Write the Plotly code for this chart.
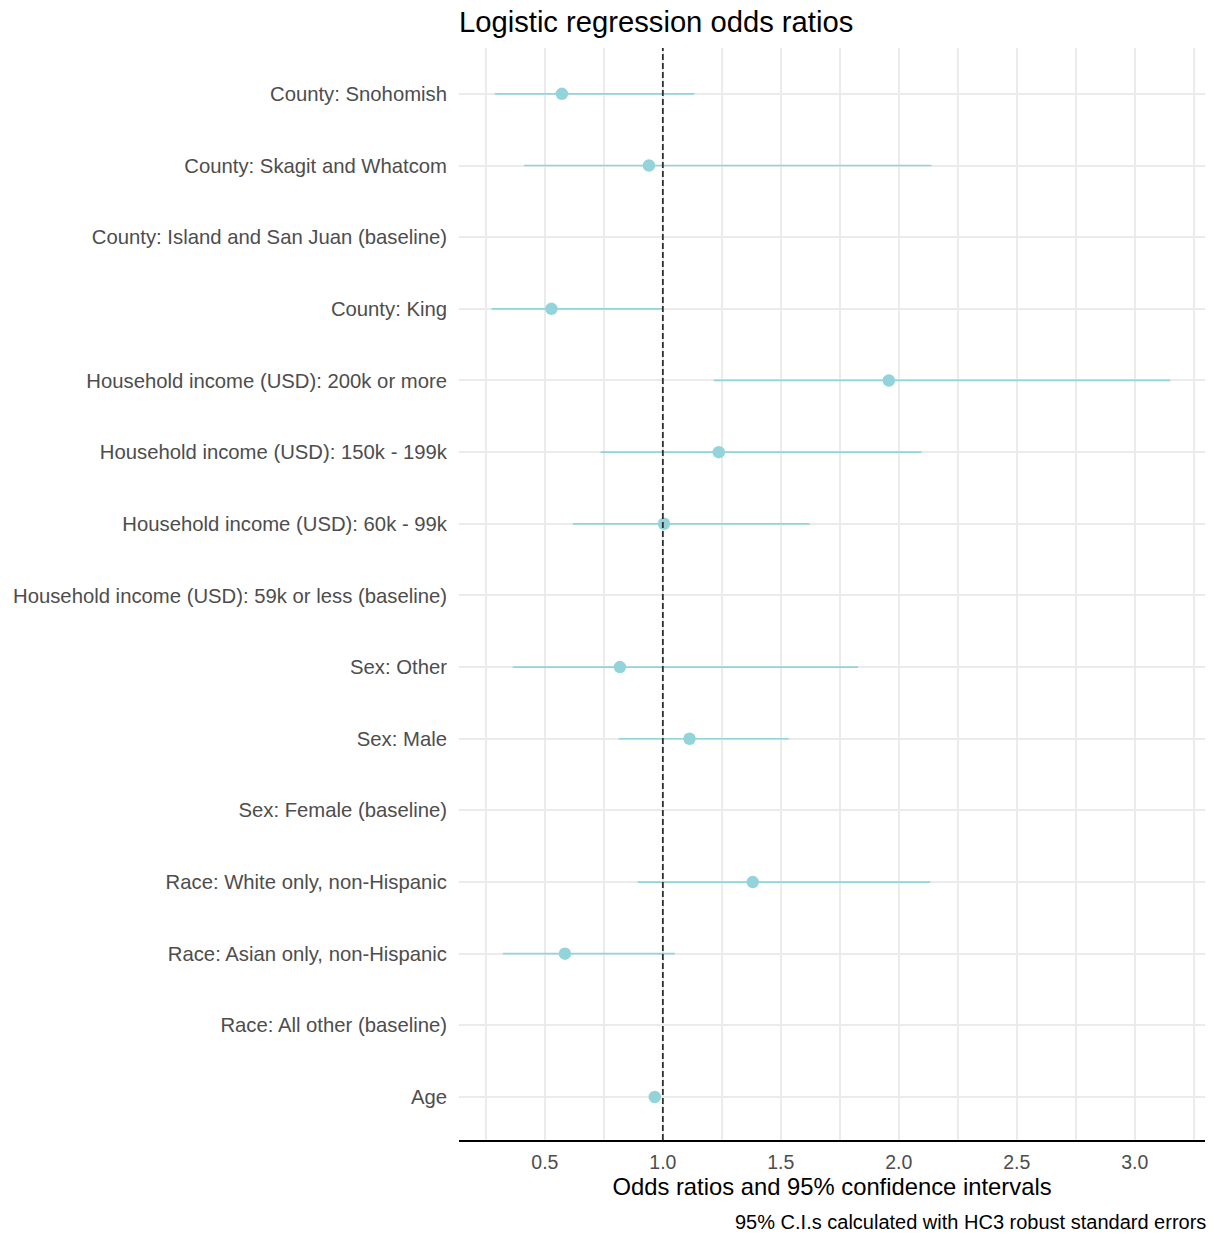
import plotly.graph_objects as go

# Model terms, listed top to bottom as they appear on the y axis
terms = [
    "County: Snohomish",
    "County: Skagit and Whatcom",
    "County: Island and San Juan (baseline)",
    "County: King",
    "Household income (USD): 200k or more",
    "Household income (USD): 150k - 199k",
    "Household income (USD): 60k - 99k",
    "Household income (USD): 59k or less (baseline)",
    "Sex: Other",
    "Sex: Male",
    "Sex: Female (baseline)",
    "Race: White only, non-Hispanic",
    "Race: Asian only, non-Hispanic",
    "Race: All other (baseline)",
    "Age",
]

# Odds ratios with 95% CI bounds (baseline levels have no estimate)
odds_ratio = [0.572, 0.941, None, 0.528, 1.958, 1.237, 1.005, None,
              0.818, 1.113, None, 1.381, 0.585, None, 0.966]
ci_low = [0.288, 0.411, None, 0.274, 1.216, 0.736, 0.619, None,
          0.364, 0.812, None, 0.894, 0.322, None, 0.958]
ci_high = [1.134, 2.139, None, 0.997, 3.151, 2.096, 1.622, None,
           1.828, 1.534, None, 2.133, 1.051, None, 0.975]

x_ticks = [0.5, 1.0, 1.5, 2.0, 2.5, 3.0]
x_tick_text = ["0.5", "1.0", "1.5", "2.0", "2.5", "3.0"]

point_color = "#93D4DB"
font_family = "Liberation Sans, Arial, sans-serif"

err_plus = [None if (h is None or p is None) else h - p for h, p in zip(ci_high, odds_ratio)]
err_minus = [None if (l is None or p is None) else p - l for l, p in zip(ci_low, odds_ratio)]

fig = go.Figure()
fig.add_trace(go.Scatter(
    x=odds_ratio,
    y=terms,
    mode="markers",
    marker=dict(size=12.5, color=point_color, line=dict(width=0)),
    error_x=dict(
        type="data",
        symmetric=False,
        array=err_plus,
        arrayminus=err_minus,
        color=point_color,
        thickness=1.7,
        width=0,
    ),
    showlegend=False,
    cliponaxis=False,
))

# Reference line at an odds ratio of 1
fig.add_shape(
    type="line", xref="x", yref="paper",
    x0=1.0, x1=1.0, y0=0, y1=1,
    line=dict(color="#2F2F2F", width=1.8, dash="6px,3px"),
    layer="above",
)

n = len(terms)
fig.update_layout(
    width=1214,
    height=1236,
    margin=dict(l=459, r=9, t=48, b=96),
    paper_bgcolor="white",
    plot_bgcolor="white",
    font=dict(family=font_family, color="#4D4D4D"),
    title=dict(
        text="Logistic regression odds ratios",
        x=459 / 1214, xanchor="left", xref="container",
        y=1 - 22 / 1236, yanchor="middle", yref="container",
        font=dict(size=29.2, color="black", family=font_family),
    ),
    xaxis=dict(
        range=[0.136, 3.298],
        tickvals=x_ticks,
        ticktext=x_tick_text,
        tickfont=dict(size=19.5, color="#4D4D4D"),
        ticks="",
        ticklabelstandoff=4,
        showgrid=True,
        gridcolor="#EBEBEB",
        gridwidth=1.5,
        minor=dict(dtick=0.25, tick0=0, showgrid=True,
                   gridcolor="#EBEBEB", gridwidth=1.5, ticks=""),
        showline=True,
        linecolor="black",
        linewidth=1.5,
        zeroline=False,
        title=dict(text="Odds ratios and 95% confidence intervals",
                   font=dict(size=23.8, color="black"), standoff=5),
    ),
    yaxis=dict(
        type="category",
        categoryorder="array",
        categoryarray=terms,
        range=[n - 1 + 0.60, -0.64],
        tickfont=dict(size=20.3, color="#4D4D4D"),
        ticks="",
        ticklabelstandoff=11,
        showgrid=True,
        gridcolor="#EBEBEB",
        gridwidth=1.5,
        showline=False,
        zeroline=False,
    ),
    annotations=[dict(
        text="95% C.I.s calculated with HC3 robust standard errors",
        xref="paper", yref="paper", x=1, y=0,
        xanchor="right", yanchor="middle",
        xshift=3, yshift=-82, showarrow=False,
        font=dict(size=20, color="black", family=font_family),
    )],
)

fig.write_html("out.html")
